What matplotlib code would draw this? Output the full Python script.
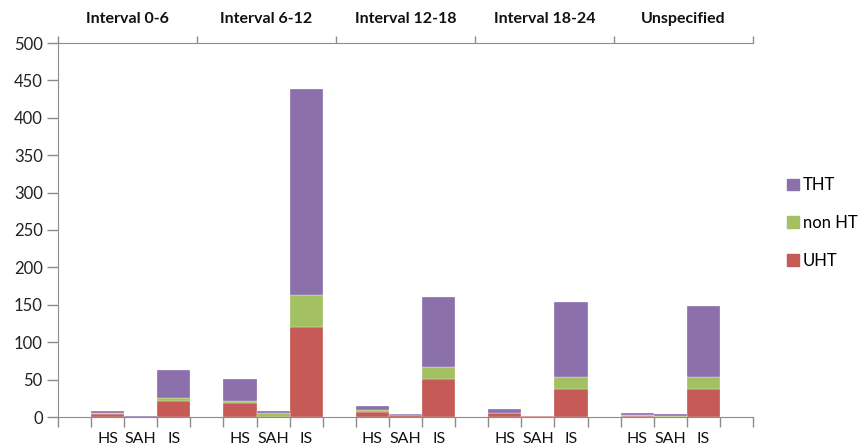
import numpy as np
import matplotlib
matplotlib.use("Agg")
import matplotlib.pyplot as plt
from matplotlib.patches import Patch

plt.rcParams['font.family'] = ['Lato', 'DejaVu Sans']

groups = ['Interval 0-6', 'Interval 6-12', 'Interval 12-18', 'Interval 18-24', 'Unspecified']
subcats = ['HS', 'SAH', 'IS']

# per group: HS, SAH, IS
uht = [[4, 0, 22], [19, 0, 120], [7, 3, 51], [5, 2, 37], [2, 0, 37]]
non_ht = [[2, 0, 4], [3, 5, 43], [2, 0, 16], [0, 0, 16], [1, 2, 16]]
tht = [[2, 2, 37], [29, 3, 276], [6, 1, 93], [6, 0, 101], [2, 2, 95]]

c_uht = '#C65A56'
c_non = '#A3C162'
c_tht = '#8B70AB'
axis_col = '#8C8C8C'

fig = plt.figure(figsize=(8.6, 4.46), dpi=100)
ax = fig.add_axes([58/860, 1-417/446, 695/860, 374/446])

# 21 slots: a blank slot before each group of three bars and one at the end
x = []
labels = []
for g in range(len(groups)):
    for j, s in enumerate(subcats):
        x.append(g*4 + 1 + j)
        labels.append(s)
x = np.array(x)
u = np.array(uht).ravel()
n = np.array(non_ht).ravel()
t = np.array(tht).ravel()

ax.bar(x, u, width=1.0, color=c_uht, edgecolor='white', linewidth=0.2)
ax.bar(x, n, width=1.0, bottom=u, color=c_non, edgecolor='white', linewidth=0.2)
ax.bar(x, t, width=1.0, bottom=u+n, color=c_tht, edgecolor='white', linewidth=0.2)

ax.set_xlim(-0.5, 20.5)
ax.set_ylim(0, 500)
ax.set_yticks(np.arange(0, 501, 50))
ax.tick_params(axis='y', direction='out', length=8, width=1, color=axis_col,
               labelsize=12, labelcolor='#222222', pad=3)

ax.set_xticks(x)
ax.set_xticklabels(labels)
ax.set_xticks(np.arange(-0.5, 21, 1), minor=True)
ax.tick_params(axis='x', which='major', length=0, labelsize=11.5, labelcolor='#111111', pad=11)
ax.tick_params(axis='x', which='minor', direction='out', length=7, width=1, color=axis_col)

for side in ['right', 'top']:
    ax.spines[side].set_visible(False)
for side in ['left', 'bottom']:
    ax.spines[side].set_color(axis_col)

# group headers along the top
top = ax.twiny()
top.set_xlim(0, 5)
top.set_xticks(np.arange(0, 6))
top.set_xticklabels([])
top.set_xticks(np.arange(0.5, 5), minor=True)
top.set_xticklabels(groups, minor=True, fontweight='bold', fontsize=11.5, color='#111111')
top.tick_params(axis='x', which='major', direction='out', length=5, width=1, color=axis_col)
top.tick_params(axis='x', which='minor', length=0, pad=12)
for side in ['right', 'bottom', 'left']:
    top.spines[side].set_visible(False)
top.spines['top'].set_color(axis_col)

handles = [Patch(color=c_tht, label='THT'),
           Patch(color=c_non, label='non HT'),
           Patch(color=c_uht, label='UHT')]
fig.legend(handles=handles, loc='center left', bbox_to_anchor=(772/860, 1-223/446),
           frameon=False, fontsize=12, handlelength=0.7, handleheight=0.7,
           handletextpad=0.25, labelspacing=1.3)

fig.savefig('out.png', dpi=100)
